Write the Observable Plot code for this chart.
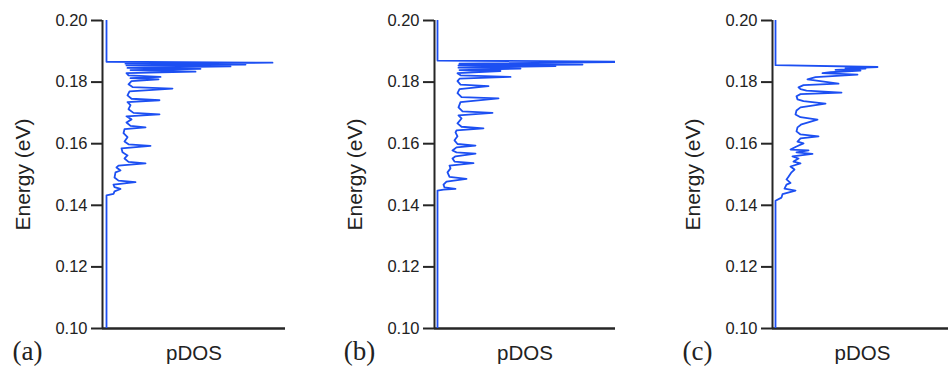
<!DOCTYPE html>
<html>
<head>
<meta charset="utf-8">
<script src="https://cdn.jsdelivr.net/npm/d3@7"></script>
<script src="https://cdn.jsdelivr.net/npm/@observablehq/plot@0.6"></script>
<style>
  html, body { margin: 0; padding: 0; background: #fff; overflow: hidden; }
  #chart { position: relative; width: 948px; height: 371px; overflow: hidden; background: #fff; }
  #chart > div { position: absolute; top: 0; }
  #chart svg { max-width: none !important; }
</style>
</head>
<body>
<div id="chart"></div>
<script>
// ---- data (pDOS in arbitrary units, energy in eV) ----
const yTicks = [0.10, 0.12, 0.14, 0.16, 0.18, 0.20];
const yLabel = "Energy (eV)";
const xLabel = "pDOS";
const panelLabels = ["(a)", "(b)", "(c)"];

const pdosA = [4, 4, 11, 12, 18, 12, 11, 33, 16, 12, 13, 18, 14, 16, 43, 26, 22, 25, 20, 19, 48, 26, 22, 25, 21, 22, 43, 28, 24, 29, 24, 57, 31, 26, 28, 25, 57, 29, 25, 27, 70, 30, 26, 29, 56, 28, 58, 26, 24, 93, 28, 98, 25, 128, 24, 143, 23, 170, 4, 4];
const energyA = [0.1000, 0.1432, 0.1437, 0.1445, 0.1453, 0.1459, 0.1467, 0.1475, 0.1480, 0.1490, 0.1507, 0.1513, 0.1523, 0.1529, 0.1536, 0.1541, 0.1552, 0.1562, 0.1572, 0.1585, 0.1593, 0.1598, 0.1607, 0.1621, 0.1634, 0.1647, 0.1653, 0.1658, 0.1669, 0.1679, 0.1689, 0.1695, 0.1700, 0.1712, 0.1725, 0.1735, 0.1741, 0.1746, 0.1757, 0.1770, 0.1779, 0.1784, 0.1793, 0.1803, 0.1809, 0.1813, 0.1817, 0.1822, 0.1829, 0.1834, 0.1839, 0.1843, 0.1846, 0.1851, 0.1854, 0.1857, 0.1860, 0.1863, 0.1866, 0.2000];

const pdosB = [3, 3, 9, 21, 10, 9, 12, 32, 15, 13, 16, 15, 39, 20, 18, 21, 41, 22, 18, 22, 41, 23, 20, 23, 21, 22, 49, 27, 23, 27, 24, 58, 28, 24, 26, 64, 27, 23, 25, 54, 26, 23, 25, 76, 26, 23, 66, 25, 86, 24, 121, 24, 148, 25, 206, 3, 3];
const energyB = [0.1000, 0.1448, 0.1451, 0.1453, 0.1458, 0.1467, 0.1477, 0.1486, 0.1492, 0.1507, 0.1520, 0.1529, 0.1537, 0.1542, 0.1552, 0.1559, 0.1568, 0.1572, 0.1578, 0.1588, 0.1594, 0.1599, 0.1611, 0.1624, 0.1637, 0.1643, 0.1650, 0.1655, 0.1666, 0.1682, 0.1692, 0.1700, 0.1705, 0.1718, 0.1735, 0.1747, 0.1751, 0.1764, 0.1777, 0.1787, 0.1792, 0.1803, 0.1811, 0.1817, 0.1822, 0.1829, 0.1836, 0.1839, 0.1844, 0.1847, 0.1852, 0.1854, 0.1857, 0.1860, 0.1866, 0.1870, 0.2000];

const pdosC = [3, 3, 9, 10, 23, 12, 14, 18, 14, 16, 19, 22, 18, 28, 21, 26, 20, 40, 24, 36, 18, 24, 31, 25, 28, 46, 28, 24, 25, 29, 45, 28, 23, 24, 28, 53, 31, 25, 24, 28, 69, 34, 28, 26, 31, 66, 35, 43, 85, 50, 58, 88, 63, 93, 73, 105, 3, 3];
const energyC = [0.1000, 0.1415, 0.1425, 0.1436, 0.1448, 0.1454, 0.1467, 0.1473, 0.1484, 0.1493, 0.1507, 0.1516, 0.1526, 0.1536, 0.1542, 0.1552, 0.1559, 0.1567, 0.1572, 0.1578, 0.1581, 0.1591, 0.1601, 0.1607, 0.1617, 0.1624, 0.1630, 0.1640, 0.1653, 0.1663, 0.1678, 0.1686, 0.1695, 0.1708, 0.1718, 0.1730, 0.1738, 0.1744, 0.1754, 0.1761, 0.1766, 0.1772, 0.1777, 0.1783, 0.1790, 0.1795, 0.1809, 0.1816, 0.1824, 0.1829, 0.1832, 0.1837, 0.1840, 0.1844, 0.1845, 0.1849, 0.1855, 0.2000];

const BLUE = "#1c4ff2";
const AXIS = "#262626";

function panel(energy, pdos, xMax, label, left, width, marginRight) {
  const data = energy.map((e, i) => ({e, p: pdos[i]}));
  const svg = Plot.plot({
    width, height: 371,
    marginLeft: 102, marginRight, marginTop: 20, marginBottom: 43,
    x: {domain: [0, xMax], axis: null},
    y: {domain: [0.10, 0.20]},
    style: {fontFamily: "'Liberation Sans', Arial, sans-serif", fontSize: "16px", color: "#222", background: "transparent", overflow: "visible"},
    marks: [
      Plot.axisY({ticks: yTicks, tickSize: 11, tickPadding: 4, tickFormat: d3.format(".2f"), fontSize: 16.5, stroke: AXIS, strokeWidth: 2, fill: "#222", label: null}),
      Plot.ruleX([0], {stroke: AXIS, strokeWidth: 2}),
      Plot.ruleY([0.10], {stroke: AXIS, strokeWidth: 2.5}),
      Plot.line(data, {x: "p", y: "e", stroke: BLUE, strokeWidth: 1.8, clip: true}),
      Plot.text([yLabel], {frameAnchor: "left", textAnchor: "middle", dx: -79, rotate: -90, fontSize: 21, fill: "#222"}),
      Plot.text([xLabel], {frameAnchor: "bottom", dy: 31, fontSize: 20.5, fill: "#222"}),
      Plot.text([label], {frameAnchor: "bottom-left", textAnchor: "middle", dx: -75, dy: 31, fontSize: 27, fill: "#222", fontFamily: "'Liberation Serif', 'Times New Roman', serif"})
    ]
  });
  svg.style.maxWidth = "none";
  const wrap = document.createElement("div");
  wrap.style.left = left + "px";
  wrap.style.width = width + "px";
  wrap.appendChild(svg);
  document.getElementById("chart").appendChild(wrap);
}

panel(energyA, pdosA, 183, panelLabels[0], 0, 295, 10);
panel(energyB, pdosB, 181, panelLabels[1], 332, 293, 10);
panel(energyC, pdosC, 180, panelLabels[2], 670, 282, 0);
</script>
</body>
</html>
